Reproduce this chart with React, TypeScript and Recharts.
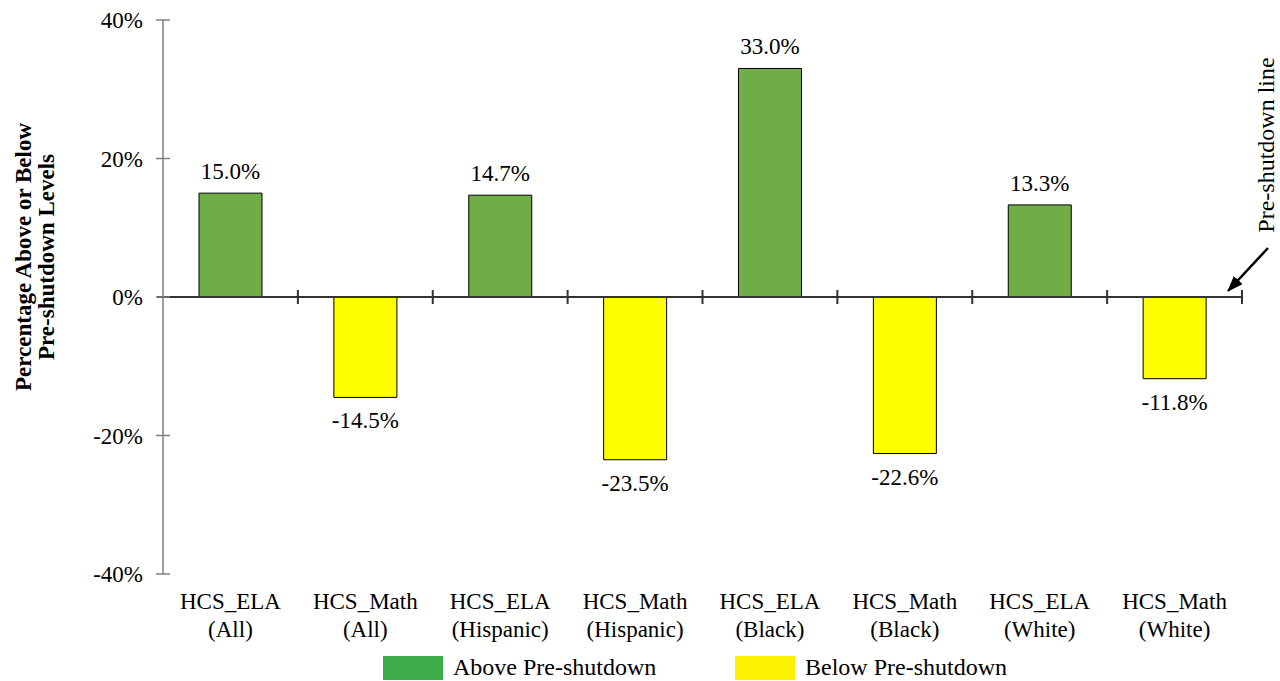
import React from 'react';
import { BarChart, Bar, XAxis, YAxis, Cell, LabelList, ReferenceLine } from 'recharts';

const FONT = '"Liberation Serif", "Times New Roman", Times, serif';

// Category labels (two lines each)
const subjects = ['HCS_ELA', 'HCS_Math', 'HCS_ELA', 'HCS_Math', 'HCS_ELA', 'HCS_Math', 'HCS_ELA', 'HCS_Math'];
const groups = ['All', 'All', 'Hispanic', 'Hispanic', 'Black', 'Black', 'White', 'White'];

// Percentage change relative to pre-shutdown levels
const changes = [15.0, -14.5, 14.7, -23.5, 33.0, -22.6, 13.3, -11.8];

// Y axis ticks
const yTicks = [-40, -20, 0, 20, 40];

const legendLabels = ['Above Pre-shutdown', 'Below Pre-shutdown'];

const ABOVE_FILL = '#70AD47';
const BELOW_FILL = '#FFFF00';
const ABOVE_LEGEND = '#3EAE4A';
const BELOW_LEGEND = '#FFF200';

const data = subjects.map((s, i) => ({
  name: `${s} (${groups[i]})`,
  subject: s,
  group: groups[i],
  value: changes[i],
}));

const fmt = (v: number) => `${v.toFixed(1)}%`;

function CategoryTick(props: any) {
  const { x, y, index } = props;
  const d = data[index];
  if (!d) return null;
  return (
    <g>
      <text x={x} y={y + 35} textAnchor="middle" fontFamily={FONT} fontSize={23} fill="#000">
        {d.subject}
      </text>
      <text x={x} y={y + 63} textAnchor="middle" fontFamily={FONT} fontSize={23} fill="#000">
        {`(${d.group})`}
      </text>
    </g>
  );
}

function ValueTick(props: any) {
  const { x, y, payload } = props;
  return (
    <g>
      <line x1={x - 7} x2={x + 7} y1={y} y2={y} stroke="#7f7f7f" strokeWidth={1.5} />
      <text x={x - 20} y={y} dy="0.35em" textAnchor="end" fontFamily={FONT} fontSize={23} fill="#000">
        {`${payload.value}%`}
      </text>
    </g>
  );
}

function ValueLabel(props: any) {
  const { x, y, width, height, value } = props;
  const top = Math.min(y, y + height);
  const bottom = Math.max(y, y + height);
  const cx = x + width / 2;
  const ty = value >= 0 ? top - 14 : bottom + 31;
  return (
    <text x={cx} y={ty} textAnchor="middle" fontFamily={FONT} fontSize={23} fill="#000">
      {fmt(Number(value))}
    </text>
  );
}

// Zero line with category boundary tick marks
function ZeroLine(props: any) {
  const { x1, y1, x2 } = props;
  const n = data.length;
  const marks = [];
  for (let k = 1; k <= n; k++) {
    const xx = x1 + ((x2 - x1) * k) / n;
    marks.push(<line key={k} x1={xx} x2={xx} y1={y1 - 7} y2={y1 + 7} stroke="#333" strokeWidth={2} />);
  }
  return (
    <g>
      <line x1={x1 - 6} x2={x2} y1={y1} y2={y1} stroke="#333" strokeWidth={2} />
      {marks}
    </g>
  );
}

export default function App() {
  return (
    <div
      style={{
        position: 'absolute',
        left: 0,
        top: 0,
        width: 1280,
        height: 681,
        background: '#fff',
        overflow: 'hidden',
      }}
    >
      <BarChart width={1280} height={681} data={data} margin={{ top: 20, right: 38, bottom: 47, left: 0 }}>
        <XAxis
          dataKey="name"
          axisLine={false}
          tickLine={false}
          tickSize={0}
          tickMargin={0}
          height={60}
          interval={0}
          tick={<CategoryTick />}
        />
        <YAxis
          type="number"
          domain={[-40, 40]}
          ticks={yTicks}
          width={163}
          axisLine={{ stroke: '#7f7f7f', strokeWidth: 1.5 }}
          tickLine={false}
          tickSize={0}
          tickMargin={0}
          tick={<ValueTick />}
          interval={0}
        />
        <Bar dataKey="value" barSize={63} stroke="#000" strokeWidth={1} isAnimationActive={false}>
          {data.map((d, i) => (
            <Cell key={i} fill={d.value >= 0 ? ABOVE_FILL : BELOW_FILL} />
          ))}
          <LabelList dataKey="value" content={<ValueLabel />} />
        </Bar>
        <ReferenceLine y={0} shape={ZeroLine} />
      </BarChart>

      <svg
        width={1280}
        height={681}
        style={{ position: 'absolute', left: 0, top: 0, pointerEvents: 'none' }}
      >
        <defs>
          <marker id="arrowHead" markerWidth="16" markerHeight="12" refX="15" refY="6" orient="auto" markerUnits="userSpaceOnUse">
            <polygon points="0,0 16,6 0,12" fill="#000" />
          </marker>
        </defs>

        {/* Y axis title */}
        <text
          transform="translate(31,257) rotate(-90)"
          textAnchor="middle"
          fontFamily={FONT}
          fontWeight="bold"
          fontSize={23}
          fill="#000"
        >
          Percentage Above or Below
        </text>
        <text
          transform="translate(54,257) rotate(-90)"
          textAnchor="middle"
          fontFamily={FONT}
          fontWeight="bold"
          fontSize={23}
          fill="#000"
        >
          Pre-shutdown Levels
        </text>

        {/* Pre-shutdown line callout */}
        <text
          transform="translate(1274,145) rotate(-90)"
          textAnchor="middle"
          fontFamily={FONT}
          fontSize={24}
          fill="#000"
        >
          Pre-shutdown line
        </text>
        <line x1={1268} y1={248} x2={1228} y2={291} stroke="#000" strokeWidth={2.5} markerEnd="url(#arrowHead)" />

        {/* Legend */}
        <rect x={383} y={656} width={60} height={24} fill={ABOVE_LEGEND} />
        <text x={453} y={675} fontFamily={FONT} fontSize={24} fill="#000">
          {legendLabels[0]}
        </text>
        <rect x={735} y={656} width={60} height={24} fill={BELOW_LEGEND} />
        <text x={805} y={675} fontFamily={FONT} fontSize={24} fill="#000">
          {legendLabels[1]}
        </text>
      </svg>
    </div>
  );
}
